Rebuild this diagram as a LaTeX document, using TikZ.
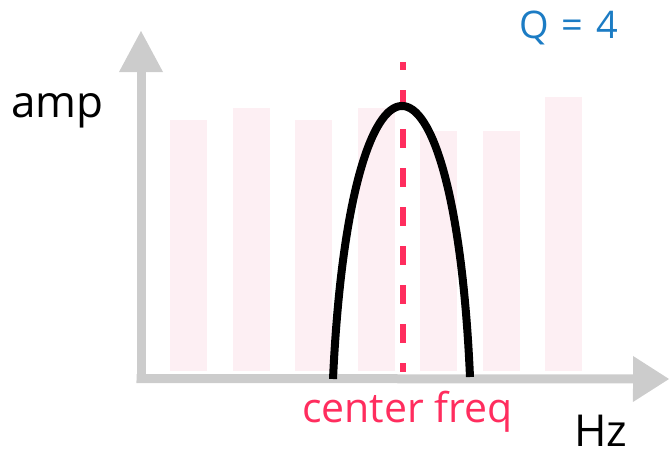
\documentclass[tikz,border=0pt]{standalone}
\usepackage{fontspec}
\setmainfont{Open Sans}
\usetikzlibrary{arrows.meta}
\definecolor{axisgray}{HTML}{CCCCCC}
\definecolor{barpink}{HTML}{FDEFF3}
\definecolor{freqred}{HTML}{FF2D5E}
\definecolor{qblue}{HTML}{1C7CC4}

\begin{document}
\begin{tikzpicture}[x=1pt, y=-1pt,
    axis/.style={draw=axisgray, line width=9pt},
    bar/.style={fill=barpink},
    label/.style={inner sep=0pt, anchor=base west, font=\fontsize{44}{50}\selectfont},
    centerline/.style={draw=freqred, line width=6pt, dash pattern=on 19pt off 20pt, dash phase=11pt},
    response/.style={draw=black, line width=8pt},
]
    \useasboundingbox (0,0) rectangle (669,455);

    % Spectrum bars
    \foreach \x/\top in {170/120, 232.5/108, 295/120, 357.5/108, 420/131, 482.5/131, 545/97}
        \fill[bar] (\x,\top) rectangle (\x+37,371);

    % Axes
    \coordinate (origin) at (141,378.5);
    \coordinate (ytip) at (141,31);
    \coordinate (xtip) at (669,379);
    \draw[axis, -{Triangle[length=41pt, width=44pt, line width=0pt]}] ([yshift=-4.5pt]origin) -- (ytip);
    \draw[axis, -{Triangle[length=36pt, width=46pt, line width=0pt]}] ([xshift=-4.5pt]origin) -- (xtip);

    % Center frequency
    \coordinate (ctop) at (403,62);
    \coordinate (cbot) at (403,372);
    \draw[centerline] (ctop) -- (cbot);

    % Band-pass response
    \coordinate (left) at (333,379);
    \coordinate (right) at (470,377);
    \draw[response] (left) .. controls (350,15.3) and (454,15.3) .. (right);

    % Labels
    \node[label] (amp) at (11,117) {amp};
    \node[label] (hz) at (574,446) {Hz};
    \node[label, text=freqred, font=\fontsize{41}{48}\selectfont] (freq) at (302,422) {center freq};
    \node[label, text=qblue, font=\fontsize{38}{44}\selectfont] (q) at (519,38) {Q\hspace{13pt}=\hspace{13pt}4};
\end{tikzpicture}
\end{document}
